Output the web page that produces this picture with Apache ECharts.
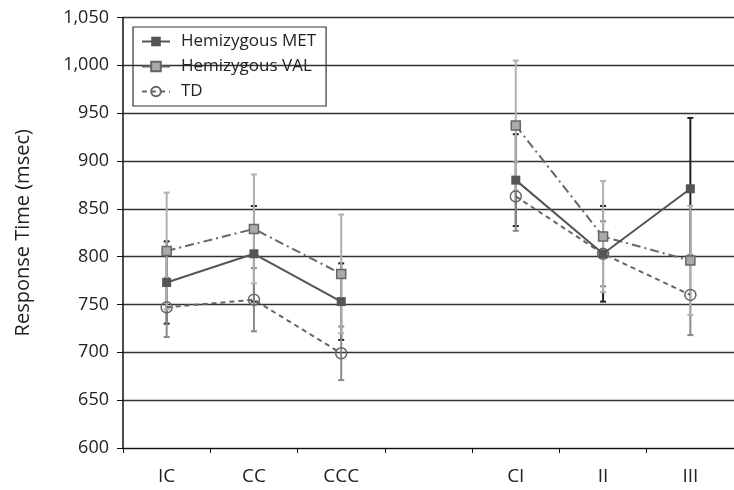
<!DOCTYPE html>
<html><head><meta charset="utf-8">
<script src="https://cdn.jsdelivr.net/npm/echarts@6/dist/echarts.min.js"></script>
<style>html,body{margin:0;padding:0;background:#fff}#c{width:734px;height:490px}</style>
</head><body><div id="c"></div>
<script>
var categories = ['IC', 'CC', 'CCC', '', 'CI', 'II', 'III'];
var metValues = [773, 803, 753, null, 880, 803, 871];
var metErrors = [43, 50, 40, null, 48, 50, 74];
var valValues = [806, 829, 782, null, 937, 821, 796];
var valErrors = [61, 57, 62, null, 68, 58, 57];
var tdValues = [747, 755, 699, null, 863, 803, 760];
var tdErrors = [31, 33, 28, null, 36, 34, 42];
var yTicks = [600, 650, 700, 750, 800, 850, 900, 950, 1000, 1050];

function errData(vals, errs) {
  var out = [];
  for (var i = 0; i < vals.length; i++) {
    if (vals[i] == null) continue;
    out.push([i, vals[i] - errs[i], vals[i] + errs[i]]);
  }
  return out;
}
function errSeries(vals, errs, color, z, capW) {
  return {
    type: 'custom', z: z, silent: true,
    data: errData(vals, errs),
    encode: {x: 0, y: [1, 2]},
    renderItem: function (params, api) {
      var lo = api.coord([api.value(0), api.value(1)]);
      var hi = api.coord([api.value(0), api.value(2)]);
      var w = capW;
      var st = {stroke: color, lineWidth: 2};
      return {type: 'group', children: [
        {type: 'line', shape: {x1: lo[0], y1: lo[1], x2: hi[0], y2: hi[1]}, style: st},
        {type: 'line', shape: {x1: lo[0] - w, y1: lo[1], x2: lo[0] + w, y2: lo[1]}, style: st},
        {type: 'line', shape: {x1: hi[0] - w, y1: hi[1], x2: hi[0] + w, y2: hi[1]}, style: st}
      ]};
    }
  };
}

var chart = echarts.init(document.getElementById('c'));
var font = 'Open Sans';
chart.setOption({
  animation: false,
  grid: {left: 123, right: -10, top: 17.5, bottom: 42},
  legend: {
    orient: 'vertical', left: 133, top: 27, padding: [6, 10, 6, 8],
    borderColor: '#333', borderWidth: 1.2, itemWidth: 28, itemHeight: 12, itemGap: 8,
    textStyle: {fontFamily: font, fontSize: 17, color: '#222', padding: [0, 0, 0, 6]},
    data: ['Hemizygous MET', 'Hemizygous VAL', 'TD']
  },
  xAxis: {
    type: 'category', data: categories, boundaryGap: true,
    axisLine: {lineStyle: {color: '#111', width: 1}},
    axisTick: {show: true, length: 5, lineStyle: {color: '#111'}},
    axisLabel: {fontFamily: font, fontSize: 19, color: '#222', margin: 19},
    splitLine: {show: false}
  },
  yAxis: {
    type: 'value', min: yTicks[0], max: yTicks[yTicks.length - 1], interval: 50,
    name: 'Response Time (msec)', nameLocation: 'middle', nameGap: 90, nameRotate: 90,
    nameTextStyle: {fontFamily: font, fontSize: 20, color: '#222'},
    axisLine: {show: true, lineStyle: {color: '#111', width: 1.5}},
    axisTick: {show: true, length: 6, lineStyle: {color: '#111'}},
    axisLabel: {fontFamily: font, fontSize: 18, color: '#222', margin: 14,
      formatter: function (v) { return v.toLocaleString('en-US'); }},
    splitLine: {show: true, lineStyle: {color: '#333', width: 1.3}}
  },
  series: [
    errSeries(metValues, metErrors, '#222', 1, 3),
    errSeries(tdValues, tdErrors, '#8a8a8a', 2, 3),
    errSeries(valValues, valErrors, '#b0b0b0', 3, 3),
    {
      name: 'Hemizygous MET', type: 'line', data: metValues, z: 6,
      symbol: 'rect', symbolSize: 9, connectNulls: false,
      lineStyle: {color: '#555', width: 2, type: 'solid'},
      itemStyle: {color: '#555', borderColor: '#555', borderWidth: 0}
    },
    {
      name: 'Hemizygous VAL', type: 'line', data: valValues, z: 5,
      symbol: 'rect', symbolSize: 9, connectNulls: false,
      lineStyle: {color: '#666', width: 2, type: [9, 4, 2, 4]},
      itemStyle: {color: '#aaa', borderColor: '#666', borderWidth: 1.5}
    },
    {
      name: 'TD', type: 'line', data: tdValues, z: 4,
      symbol: 'circle', symbolSize: 11, connectNulls: false,
      lineStyle: {color: '#666', width: 2, type: [5, 4]},
      itemStyle: {color: 'rgba(255,255,255,0)', borderColor: '#666', borderWidth: 1.5}
    }
  ]
});
</script></body></html>
